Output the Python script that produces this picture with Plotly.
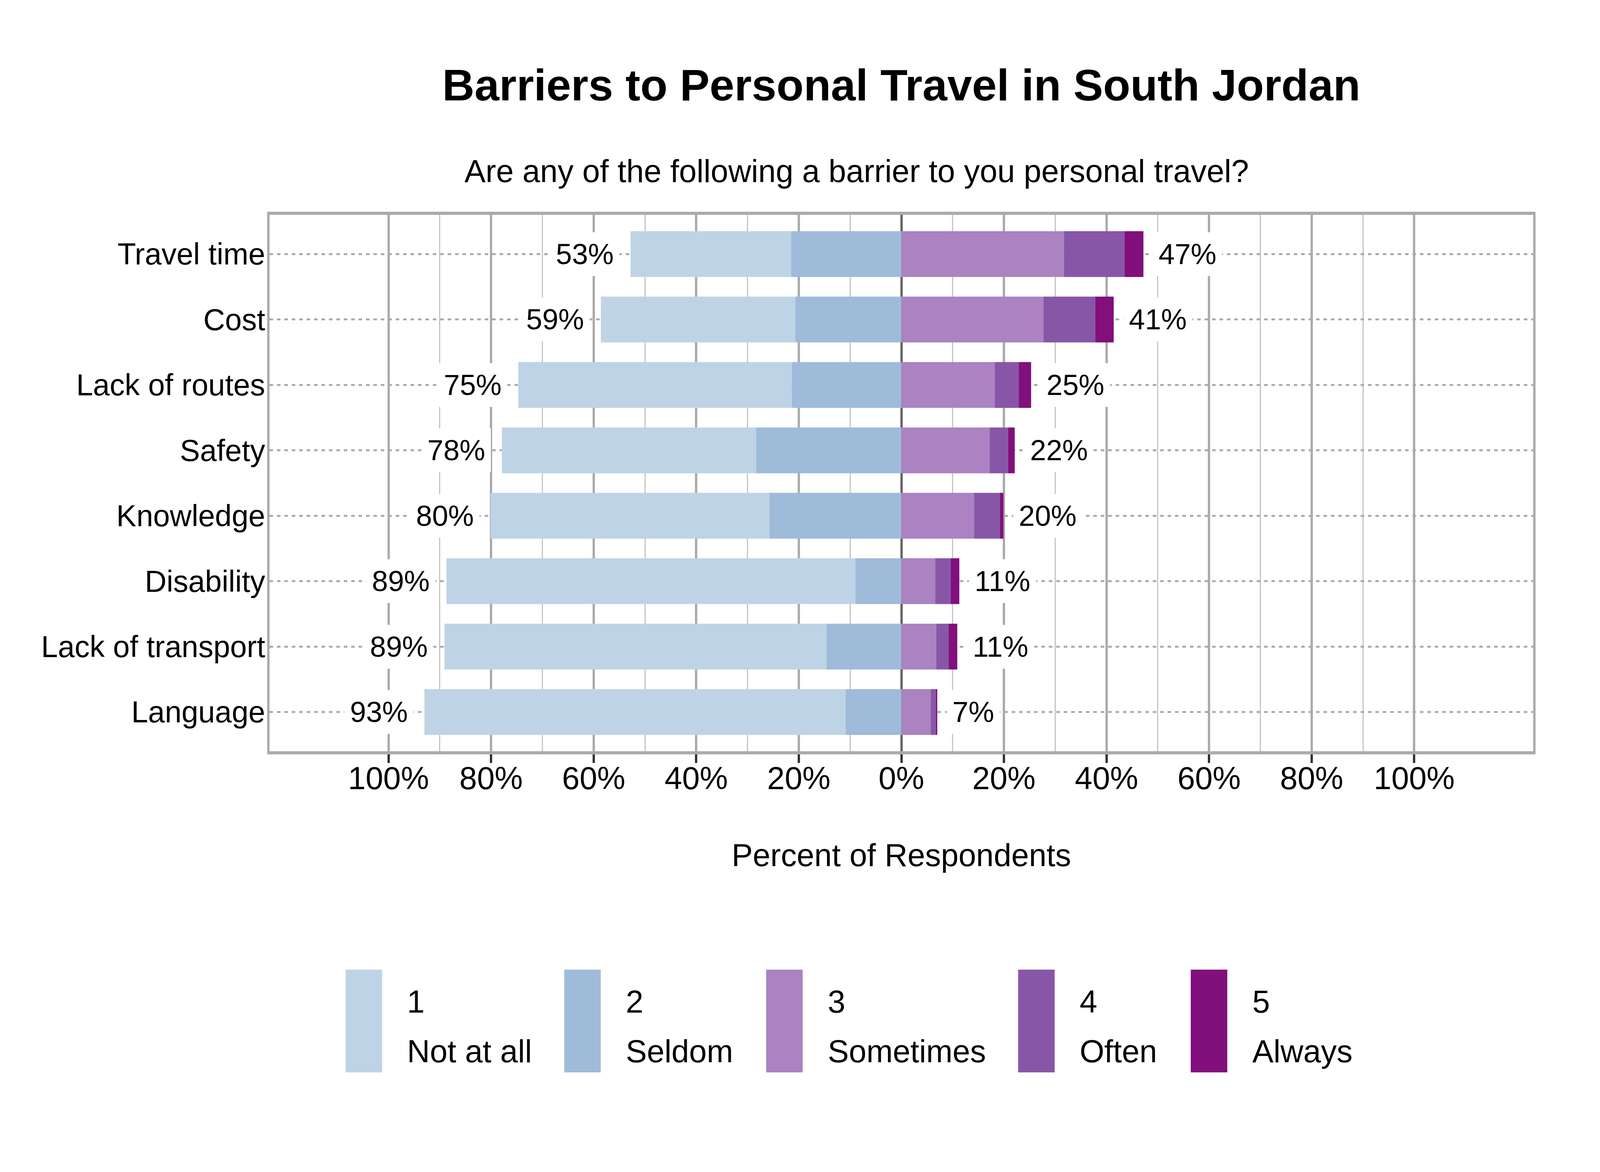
import plotly.graph_objects as go

# datos (porcentajes de encuestados)
categorias = ["Travel time", "Cost", "Lack of routes", "Safety", "Knowledge",
              "Disability", "Lack of transport", "Language"]
not_at_all = [31.3, 37.9, 53.3, 49.6, 54.4, 79.7, 74.5, 82.1]
seldom = [21.5, 20.7, 21.4, 28.3, 25.7, 9.0, 14.6, 10.9]
sometimes = [31.7, 27.7, 18.2, 17.2, 14.2, 6.6, 6.8, 5.7]
often = [11.8, 10.1, 4.7, 3.6, 5.0, 3.0, 2.4, 1.0]
always = [3.7, 3.6, 2.4, 1.3, 0.7, 1.7, 1.7, 0.3]

niveles = ["1", "2", "3", "4", "5"]
nombres = ["Not at all", "Seldom", "Sometimes", "Often", "Always"]
colores = ["#BFD3E6", "#9EBBD9", "#AB82C2", "#8856A7", "#810F7C"]

tick_vals = [-100, -80, -60, -40, -20, 0, 20, 40, 60, 80, 100]
tick_text = ["100%", "80%", "60%", "40%", "20%", "0%", "20%", "40%", "60%", "80%", "100%"]
minor_vals = [-90, -70, -50, -30, -10, 10, 30, 50, 70, 90]

FUENTE = "Liberation Sans, Arial, sans-serif"
# la ventana real del navegador sale de 4096x3000, asi que todo va escalado
ESC = 0.70

fig = go.Figure()

# lado negativo: primero Seldom (pegado al cero), luego Not at all
fig.add_trace(go.Bar(y=categorias, x=[-v for v in seldom], orientation="h",
                     marker=dict(color=colores[1], line=dict(width=0)),
                     width=0.7, showlegend=False))
fig.add_trace(go.Bar(y=categorias, x=[-v for v in not_at_all], orientation="h",
                     marker=dict(color=colores[0], line=dict(width=0)),
                     width=0.7, showlegend=False))
# lado positivo
for serie, color in zip([sometimes, often, always], colores[2:]):
    fig.add_trace(go.Bar(y=categorias, x=serie, orientation="h",
                         marker=dict(color=color, line=dict(width=0)),
                         width=0.7, showlegend=False))

# etiquetas de porcentaje a cada lado
izq = [a + b for a, b in zip(not_at_all, seldom)]
der = [a + b + c for a, b, c in zip(sometimes, often, always)]
for cat, l, r in zip(categorias, izq, der):
    fig.add_annotation(x=-l, y=cat, text=f"{round(l)}%", showarrow=False,
                       xanchor="right", yanchor="middle", xshift=-28,
                       bgcolor="white", borderpad=14,
                       font=dict(family=FUENTE, size=round(106 * ESC), color="black"))
    fig.add_annotation(x=r, y=cat, text=f"{round(r)}%", showarrow=False,
                       xanchor="left", yanchor="middle", xshift=24,
                       bgcolor="white", borderpad=14,
                       font=dict(family=FUENTE, size=round(106 * ESC), color="black"))

# subtitulo y titulo del eje x
fig.add_annotation(x=0.4647, y=1.0818, xref="paper", yref="paper",
                   text="Are any of the following a barrier to you personal travel?",
                   showarrow=False, xanchor="center", yanchor="middle",
                   font=dict(family=FUENTE, size=round(116 * ESC), color="black"))
fig.add_annotation(x=0.5, y=-0.1938, xref="paper", yref="paper",
                   text="Percent of Respondents", showarrow=False,
                   xanchor="center", yanchor="middle",
                   font=dict(family=FUENTE, size=round(116 * ESC), color="black"))

# leyenda hecha a mano (los cuadros de plotly salen muy chicos)
ley_x = [0.0602, 0.2332, 0.3930, 0.5924, 0.7290]
ley_w = 0.0289
ley_txt = 0.0481
for x0, nivel, nombre, color in zip(ley_x, niveles, nombres, colores):
    fig.add_shape(type="rect", xref="paper", yref="paper",
                  x0=x0, x1=x0 + ley_w, y0=-0.5987, y1=-0.4071,
                  fillcolor=color, line=dict(width=0))
    fig.add_annotation(x=x0 + ley_txt, y=-0.4670, xref="paper", yref="paper",
                       text=nivel, showarrow=False, xanchor="left", yanchor="middle",
                       font=dict(family=FUENTE, size=round(116 * ESC), color="black"))
    fig.add_annotation(x=x0 + ley_txt, y=-0.5591, xref="paper", yref="paper",
                       text=nombre, showarrow=False, xanchor="left", yanchor="middle",
                       font=dict(family=FUENTE, size=round(116 * ESC), color="black"))

fig.update_layout(
    barmode="relative",
    margin=dict(l=682, r=163, t=542, b=1069),
    paper_bgcolor="white", plot_bgcolor="white",
    title=dict(text="<b>Barriers to Personal Travel in South Jordan</b>",
               x=0.5, xref="paper", y=0.930, yref="container",
               xanchor="center", yanchor="middle",
               font=dict(family=FUENTE, size=round(163 * ESC), color="black")),
    font=dict(family=FUENTE, color="black"),
)

fig.update_xaxes(range=[-123.2, 123.2], tickvals=tick_vals, ticktext=tick_text,
                 tickfont=dict(size=round(116 * ESC), color="black"),
                 ticks="outside", ticklen=22, tickwidth=6, tickcolor="#333333",
                 ticklabelstandoff=-30,
                 showgrid=True, gridcolor="#ABABAB", gridwidth=5.5,
                 minor=dict(tickvals=minor_vals, showgrid=True, gridcolor="#C4C4C4",
                            gridwidth=2.8, ticks=""),
                 zeroline=True, zerolinecolor="#666666", zerolinewidth=5.5,
                 showline=True, mirror=True, linecolor="#ABABAB", linewidth=8)

fig.update_yaxes(categoryorder="array", categoryarray=categorias,
                 range=[7.6, -0.6], tickfont=dict(size=round(110 * ESC), color="black"),
                 ticks="", ticklabelstandoff=-10,
                 showgrid=True, gridcolor="#ABABAB", gridwidth=4.5, griddash="9px,10px",
                 showline=True, mirror=True, linecolor="#ABABAB", linewidth=5.5)

fig.write_html("out.html")
